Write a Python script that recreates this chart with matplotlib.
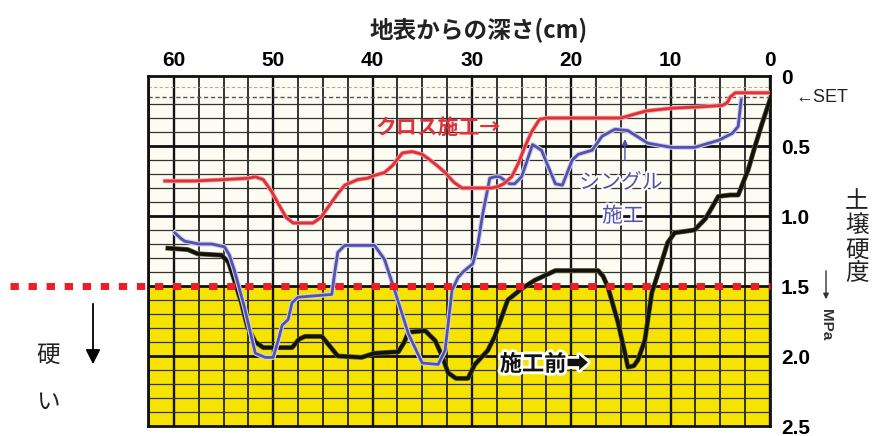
import matplotlib

matplotlib.use("Agg")
import matplotlib.pyplot as plt
import matplotlib.patheffects as pe

plt.rcParams["font.family"] = ["Noto Sans CJK JP", "DejaVu Sans"]

# depth from the surface (cm) / soil hardness (MPa)
CROSS_X = [60.9, 58.0, 55.0, 52.5, 51.8, 51.0, 50.2, 49.5, 48.7, 48.0, 46.0, 45.2, 44.3,
           43.5, 42.8, 41.5, 40.5, 39.8, 38.8, 38.0, 37.0, 36.0, 35.0, 34.4, 33.5, 32.7,
           31.8, 31.0, 28.0, 27.4, 26.8, 26.0, 25.3, 24.7, 24.0, 23.2, 22.5, 17.0, 15.0,
           13.5, 12.5, 9.9, 7.0, 4.8, 4.3, 4.0, 3.5, 2.0, 0.0]
CROSS_Y = [0.75, 0.75, 0.74, 0.73, 0.72, 0.74, 0.82, 0.91, 1.01, 1.05, 1.05, 1.01, 0.92,
           0.84, 0.78, 0.74, 0.73, 0.71, 0.69, 0.64, 0.55, 0.54, 0.56, 0.59, 0.64, 0.69,
           0.76, 0.80, 0.80, 0.79, 0.77, 0.72, 0.62, 0.51, 0.40, 0.31, 0.30, 0.30, 0.30,
           0.27, 0.25, 0.23, 0.22, 0.21, 0.19, 0.15, 0.12, 0.12, 0.12]

SINGLE_X = [59.9, 59.3, 58.9, 57.5, 56.2, 54.9, 54.4, 53.9, 52.9, 51.8, 50.8, 50.0, 49.5,
            49.1, 48.5, 48.1, 47.5, 44.1, 43.8, 43.5, 42.8, 39.8, 38.8, 37.6, 36.4, 35.0,
            33.4, 32.7, 32.0, 31.4, 30.9, 29.9, 29.4, 28.9, 28.2, 27.7, 27.2, 26.2, 25.7,
            25.0, 23.9, 23.0, 21.6, 20.9, 19.9, 19.3, 17.9, 16.9, 15.6, 14.3, 12.3, 9.9,
            7.6, 5.2, 3.8, 3.2, 2.9]
SINGLE_Y = [1.12, 1.16, 1.18, 1.20, 1.20, 1.22, 1.28, 1.39, 1.65, 1.98, 2.01, 2.01, 1.89,
            1.78, 1.74, 1.62, 1.58, 1.56, 1.40, 1.26, 1.21, 1.21, 1.31, 1.57, 1.84, 2.05,
            2.06, 1.96, 1.53, 1.44, 1.40, 1.34, 1.20, 0.98, 0.73, 0.72, 0.72, 0.77, 0.77,
            0.72, 0.49, 0.53, 0.77, 0.78, 0.60, 0.56, 0.53, 0.43, 0.38, 0.39, 0.48, 0.51,
            0.51, 0.46, 0.41, 0.36, 0.17]

BEFORE_X = [60.6, 58.6, 57.6, 55.2, 54.5, 53.9, 53.2, 52.6, 51.8, 51.0, 48.1, 47.4, 46.8,
            45.1, 44.3, 43.5, 41.1, 39.8, 37.4, 36.8, 36.4, 34.7, 33.7, 33.0, 32.4, 31.6,
            30.4, 29.7, 28.4, 27.7, 27.0, 26.4, 25.0, 23.7, 22.5, 21.6, 17.3, 16.8, 16.3,
            15.3, 14.6, 14.3, 13.7, 13.3, 12.6, 11.9, 11.0, 10.3, 9.6, 7.6, 6.5, 5.2, 4.0,
            3.2, 2.2, 1.5, 0.8, 0.0]
BEFORE_Y = [1.23, 1.24, 1.27, 1.28, 1.33, 1.46, 1.62, 1.79, 1.90, 1.94, 1.94, 1.88, 1.86,
            1.86, 1.93, 2.00, 2.01, 1.98, 1.97, 1.90, 1.83, 1.82, 1.89, 2.00, 2.12, 2.16,
            2.16, 2.06, 1.96, 1.86, 1.72, 1.60, 1.52, 1.46, 1.42, 1.39, 1.39, 1.43, 1.51,
            1.76, 1.98, 2.08, 2.07, 2.03, 1.89, 1.55, 1.35, 1.19, 1.12, 1.10, 1.02, 0.86,
            0.85, 0.85, 0.67, 0.50, 0.34, 0.17]

DEPTH_TICKS = [60, 50, 40, 30, 20, 10, 0]
HARD_TICKS = [0, 0.5, 1.0, 1.5, 2.0, 2.5]
HARD_LABELS = ["0", "0.5", "1.0", "1.5", "2.0", "2.5"]
LIMIT = 1.5

W, H = 877, 436


def fx(px):
    return px / W


def fy(py):
    return 1 - py / H


fig = plt.figure(figsize=(W / 100, H / 100), dpi=100)
ax = fig.add_axes([fx(148), fy(426), (770 - 148) / W, (426 - 76) / H])
ax.set_xlim(62.6, 0)
ax.set_ylim(2.5, 0)

# background: pale above the limit, yellow below
ax.axhspan(0, LIMIT, color="#fdfcf3", zorder=0)
ax.axhspan(LIMIT, 2.5, color="#f6e400", zorder=0)

# grid
for i in range(26):
    d = i * 2.5
    ax.axvline(d, color="#111111", lw=1.7 if i % 4 == 0 else 1.2, zorder=1)
for i in range(1, 25):
    h = i / 10
    if i % 5 == 0:
        ax.axhline(h, color="#111111", lw=2.0, zorder=1)
    elif i != 1:
        ax.axhline(h, color="#333333", lw=0.9, zorder=1)
ax.axhline(0.08, color="#aaaaaa", lw=0.8, ls=(0, (3, 2)), zorder=1)
ax.axhline(0.15, color="#555555", lw=1.0, ls=(0, (3, 2)), zorder=1)

for s in ax.spines.values():
    s.set_linewidth(2.0)
    s.set_color("#111111")

# curves
ax.plot(BEFORE_X, BEFORE_Y, color="#111111", lw=2.6, zorder=3,
        path_effects=[pe.Stroke(linewidth=3.6, foreground="#666633"), pe.Normal()])
ax.plot(SINGLE_X, SINGLE_Y, color="#5252aa", lw=2.0, zorder=4,
        path_effects=[pe.Stroke(linewidth=3.6, foreground="#d0d0f0"), pe.Normal()])
ax.plot(CROSS_X, CROSS_Y, color="#e0303c", lw=2.0, zorder=5,
        path_effects=[pe.Stroke(linewidth=3.2, foreground="#f4a0a0"), pe.Normal()])

# limit line, running out to the left edge of the figure
ax.plot([76.5, 0], [LIMIT, LIMIT], color="#ee1c24", lw=5, ls=(0, (1.2, 1.4)),
        solid_capstyle="butt", dash_capstyle="butt", clip_on=False, zorder=6)

# axes labels / ticks
ax.set_xticks(DEPTH_TICKS)
ax.xaxis.set_ticks_position("top")
ax.tick_params(axis="x", length=0, pad=4)
for lab in ax.get_xticklabels():
    lab.set_fontfamily("Liberation Sans")
    lab.set_fontweight("bold")
    lab.set_fontsize(15)
ax.set_yticks(HARD_TICKS)
ax.set_yticklabels(HARD_LABELS)
ax.yaxis.set_ticks_position("right")
ax.tick_params(axis="y", length=0, pad=8)
for lab in ax.get_yticklabels():
    lab.set_fontfamily("Liberation Sans")
    lab.set_fontweight("bold")
    lab.set_fontsize(15)

fig.text(fx(479), fy(30), "地表からの深さ(cm)", fontsize=17, fontweight="bold",
         ha="center", va="center", color="#222222")

# annotations on the plot
ax.text(39.7, 0.37, "クロス施工→", fontsize=15, fontweight="bold", color="#e0303c",
        ha="left", va="center", zorder=7)
ax.text(15.0, 0.76, "シングル", fontsize=15, color="#5252aa", ha="center", va="center",
        zorder=7, path_effects=[pe.withStroke(linewidth=3, foreground="white")])
ax.text(14.8, 1.0, "施工", fontsize=15, color="#5252aa", ha="center", va="center",
        zorder=7, path_effects=[pe.withStroke(linewidth=3, foreground="white")])
ax.annotate("", xy=(14.6, 0.43), xytext=(14.6, 0.62),
            arrowprops=dict(arrowstyle="-|>", color="#5252aa", lw=1.0,
                            mutation_scale=8), zorder=7)
ax.text(27.2, 2.06, "施工前➡", fontsize=16, fontweight="bold", color="#111111",
        ha="left", va="center", zorder=7,
        path_effects=[pe.withStroke(linewidth=4, foreground="white")])

# right side labels
fig.text(fx(822), fy(97), "←SET", fontsize=13, ha="center", va="center",
         family=["Liberation Sans", "DejaVu Sans"], color="#222222")
fig.text(fx(857), fy(238), "土\n壌\n硬\n度", fontsize=17, ha="center", va="center",
         linespacing=1.05, color="#222222")
fig.patches.append(matplotlib.patches.FancyArrowPatch(
    (fx(826), fy(268)), (fx(826), fy(302)), transform=fig.transFigure,
    arrowstyle="-|>", mutation_scale=8, color="#333333", lw=1.0))
fig.text(fx(826), fy(325), "MPa", fontsize=11, fontweight="bold", rotation=-90,
         ha="center", va="center", family=["Liberation Sans", "DejaVu Sans"],
         color="#333333")

# left side: harder
fig.text(fx(48), fy(355), "硬", fontsize=17, ha="center", va="center", color="#222222")
fig.text(fx(48), fy(402), "い", fontsize=17, ha="center", va="center", color="#222222")
fig.patches.append(matplotlib.patches.FancyArrowPatch(
    (fx(93), fy(301)), (fx(93), fy(367)), transform=fig.transFigure,
    arrowstyle="-|>", mutation_scale=22, color="#000000", lw=1.3))

fig.savefig("out.png", dpi=100)
